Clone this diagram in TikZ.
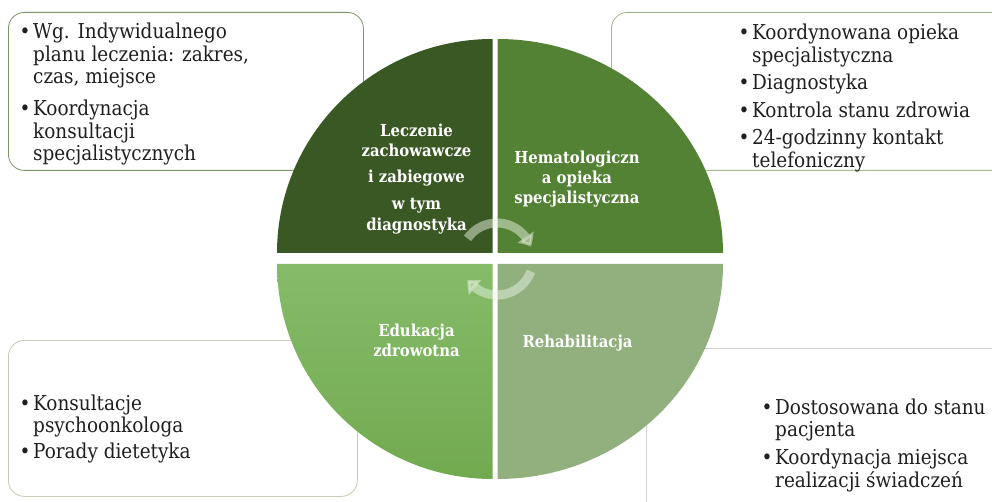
\documentclass[tikz,border=0pt]{standalone}
\usepackage{fontspec}
\setmainfont{DejaVu Serif Condensed}
\usepackage{tikz}
\usetikzlibrary{
    positioning,
    arrows.meta,
    bending
}
\definecolor{quadTL}{RGB}{58,88,36}
\definecolor{quadTR}{RGB}{84,130,53}
\definecolor{quadBLtop}{RGB}{134,187,105}
\definecolor{quadBLbot}{RGB}{114,170,80}
\definecolor{quadBR}{RGB}{145,176,125}
\definecolor{edgeTL}{RGB}{125,150,105}
\definecolor{edgeTR}{RGB}{165,185,145}
\definecolor{edgeBL}{RGB}{195,205,180}
\definecolor{edgeBR}{RGB}{210,212,206}
\definecolor{arrowtint}{RGB}{232,242,226}
\newcommand{\bulletmark}{\makebox[12pt][l]{\hspace{-1.5pt}\textbullet}}
\tikzset{
    infobox/.style={
        rectangle, draw, line width=0.8pt,
        rounded corners=16pt, fill=white,
        anchor=north west, inner sep=0pt
    },
    infotext/.style={
        anchor=base west, inner sep=0pt, text=black!88,
        font=\fontsize{20.5}{22.5}\selectfont
    },
    quadlabel/.style={
        anchor=base, align=center, inner sep=0pt, text=white,
        font=\bfseries\fontsize{16.5}{20}\selectfont
    },
    cyclearrow/.style={
        line width=9pt, draw=arrowtint, opacity=0.5,
        -{Triangle[width=19pt, length=11pt, bend]}
    }
}
\begin{document}
\begin{tikzpicture}[x=1pt, y=1pt]
    \useasboundingbox (0,0) rectangle (992,501);
    \clip (0,0) rectangle (992,501);

    % Outer boxes
    \node[infobox, draw=edgeTL, minimum width=355pt, minimum height=158pt] (boxTL) at (8,489) {};
    \node[infobox, draw=edgeTR, minimum width=400pt, minimum height=158pt] (boxTR) at (611,489) {};
    \node[infobox, draw=edgeBL, minimum width=349pt, minimum height=156pt] (boxBL) at (8,161) {};
    \node[infobox, draw=edgeBR, minimum width=400pt, minimum height=180pt] (boxBR) at (646,153) {};

    % Quadrants
    \fill[quadTL] (492.5,248) -- (277,248) arc[start angle=180, end angle=90, x radius=215.5, y radius=214] -- cycle;
    \fill[quadTR] (497.5,248) -- (497.5,462) arc[start angle=90, end angle=0, x radius=225.5, y radius=214] -- cycle;
    \shade[top color=quadBLtop, bottom color=quadBLbot] (492.5,237) -- (277,237) arc[start angle=180, end angle=270, x radius=215.5, y radius=215] -- cycle;
    \fill[quadBR] (497.5,237) -- (723,237) arc[start angle=0, end angle=-90, x radius=225.5, y radius=215] -- cycle;

    % Quadrant labels (base = last line)
    \node[quadlabel] (leczenie) at (416.5,270.5) {Leczenie\\zachowawcze\\[6pt]i zabiegowe\\[7pt]w tym\\[1pt]diagnostyka};
    \node[quadlabel] (hemato) at (577,297.5) {Hematologiczn\\a opieka\\specjalistyczna};
    \node[quadlabel] (edukacja) at (416.5,144.5) {Edukacja\\zdrowotna};
    \node[quadlabel] (rehab) at (577.5,154) {Rehabilitacja};

    % Cycle arrows
    \coordinate (ctr) at (497,242);
    \draw[cyclearrow] ([shift={(145:36)}]ctr) arc[start angle=145, end angle=20, radius=36];
    \draw[cyclearrow] ([shift={(-20:36)}]ctr) arc[start angle=-20, end angle=-145, radius=36];

    % Box texts
    \node[infotext] (textTL) at (21,462) {\begin{tabular}[t]{@{}l@{}l@{}}
        \bulletmark & Wg. Indywidualnego\\
        & planu leczenia: zakres,\\
        & czas, miejsce\\[9.5pt]
        \bulletmark & Koordynacja\\
        & konsultacji\\
        & specjalistycznych
    \end{tabular}};
    \node[infotext] (textTR) at (740,461) {\begin{tabular}[t]{@{}l@{}l@{}}
        \bulletmark & Koordynowana opieka\\
        & specjalistyczna\\[5pt]
        \bulletmark & Diagnostyka\\[5pt]
        \bulletmark & Kontrola stanu zdrowia\\[5pt]
        \bulletmark & 24-godzinny kontakt\\
        & telefoniczny
    \end{tabular}};
    \node[infotext] (textBL) at (21,91) {\begin{tabular}[t]{@{}l@{}l@{}}
        \bulletmark & Konsultacje\\
        & psychoonkologa\\[3.5pt]
        \bulletmark & Porady dietetyka
    \end{tabular}};
    \node[infotext] (textBR) at (763,87) {\begin{tabular}[t]{@{}l@{}l@{}}
        \bulletmark & Dostosowana do stanu\\
        & pacjenta\\[5.5pt]
        \bulletmark & Koordynacja miejsca\\
        & realizacji świadczeń
    \end{tabular}};

\end{tikzpicture}
\end{document}
